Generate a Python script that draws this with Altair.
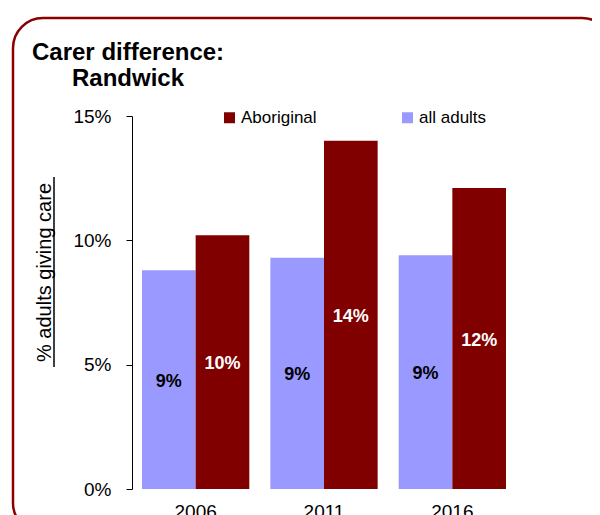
import altair as alt
import pandas as pd

FONT = "Liberation Sans"

years = ["2006", "2011", "2016"]
series_order = ["all adults", "Aboriginal"]
all_adults = [0.088, 0.093, 0.094]
aboriginal = [0.102, 0.140, 0.121]
y_ticks = [0, 0.05, 0.10, 0.15]
legend_domain = ["Aboriginal", "all adults"]
legend_colors = ["#800000", "#9999FF"]

rows = []
for i, yr in enumerate(years):
    rows.append({"year": yr, "series": "all adults", "value": all_adults[i]})
    rows.append({"year": yr, "series": "Aboriginal", "value": aboriginal[i]})
df = pd.DataFrame(rows)

base = alt.Chart(df)

x_enc = alt.X(
    "year:N",
    sort=years,
    scale=alt.Scale(paddingInner=0.164, paddingOuter=0.078),
    axis=alt.Axis(
        title=None, domain=False, ticks=False, tickSize=0, labelAngle=0,
        labelFontSize=19, labelPadding=13, labelColor="black", labelFont=FONT,
    ),
)
xoff_enc = alt.XOffset("series:N", sort=series_order,
                       scale=alt.Scale(paddingInner=0, paddingOuter=0))

y_axis = alt.Axis(
    values=y_ticks, format=".0%", grid=False,
    domainColor="black", domainWidth=1,
    tickColor="black", tickSize=6, tickWidth=1,
    labelFontSize=19, labelColor="black", labelPadding=15, labelFont=FONT,
    title="% adults giving care", titleFont=FONT, titleFontSize=20,
    titleFontWeight="normal", titleColor="black",
    titleX=-82, titleY=156, titleAlign="center", titleBaseline="alphabetic",
)
y_scale = alt.Scale(domain=[0, 0.15], nice=False)

bars = base.mark_bar().encode(
    x=x_enc,
    xOffset=xoff_enc,
    y=alt.Y("value:Q", scale=y_scale, axis=y_axis),
    color=alt.Color(
        "series:N",
        scale=alt.Scale(domain=legend_domain, range=legend_colors),
        legend=alt.Legend(
            title=None, orient="none", legendX=89, legendY=-7,
            direction="horizontal", symbolType="square", symbolSize=121,
            symbolStrokeWidth=0, symbolOpacity=1, labelFontSize=17, labelOffset=3,
            columnPadding=82, padding=0, labelFont=FONT, labelColor="black",
        ),
    ),
)

labels = base.transform_calculate(mid="datum.value / 2").mark_text(
    font=FONT, fontSize=18, fontWeight="bold", baseline="middle", align="center", dy=2
).encode(
    x=x_enc,
    xOffset=xoff_enc,
    y=alt.Y("mid:Q", scale=y_scale, axis=y_axis),
    text=alt.Text("value:Q", format=".0%"),
    color=alt.condition("datum.series === 'Aboriginal'", alt.value("white"), alt.value("black")),
)

underline = alt.Chart(alt.Data(values=[{}])).mark_rule(color="black", strokeWidth=1.5).encode(
    x=alt.value(-78), y=alt.value(61), y2=alt.value(251)
)

border = alt.Chart(alt.Data(values=[{}])).mark_rect(
    fill="white", fillOpacity=0, stroke="#8B0000", strokeWidth=2.5, cornerRadius=30
).encode(
    x=alt.value(-119), x2=alt.value(480), y=alt.value(-98), y2=alt.value(417)
)

chart = alt.layer(border, bars, labels, underline).properties(
    width=384,
    height=373,
    background="white",
    autosize=alt.AutoSizeParams(type="none"),
    padding={"left": 124, "top": 108, "right": 76, "bottom": 50},
    title=alt.TitleParams(
        text=["Carer difference:", "\u200b\u00a0\u00a0\u00a0\u00a0\u00a0\u00a0Randwick"],
        anchor="start", frame="group", dx=-100, dy=74, offset=0,
        font=FONT, fontSize=24, fontWeight="bold", color="black",
        lineHeight=26, baseline="top",
    ),
).configure_view(stroke=None)

chart.save("out.html", embed_options={"renderer": "svg", "actions": False})
